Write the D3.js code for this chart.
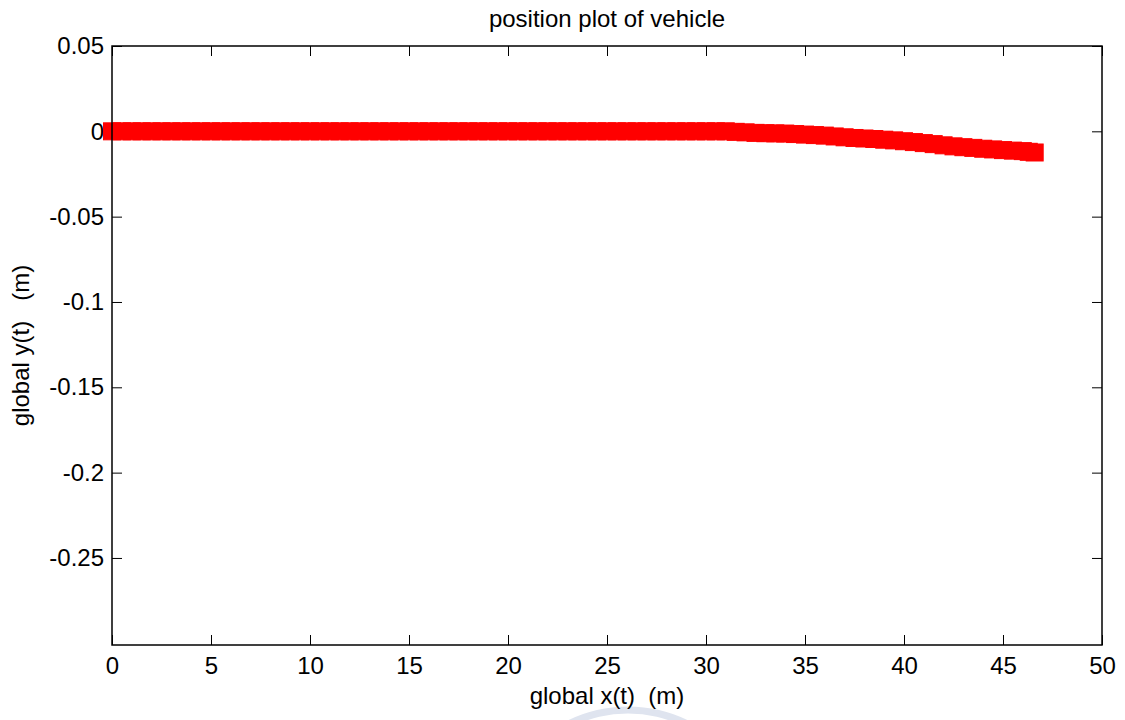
<!DOCTYPE html>
<html>
<head>
<meta charset="utf-8">
<script src="https://cdn.jsdelivr.net/npm/d3@7"></script>
<style>
  body { margin: 0; background: #fff; }
  svg text { font-family: Arial, "Liberation Sans", sans-serif; fill: #000; }
</style>
</head>
<body>
<div id="svg-container"></div>
<script>
// data: vehicle position (m)
const xPos = [0, 0.5, 1, 1.5, 2, 2.5, 3, 3.5, 4, 4.5, 5, 5.5, 6, 6.5, 7, 7.5, 8, 8.5, 9, 9.5,
  10, 10.5, 11, 11.5, 12, 12.5, 13, 13.5, 14, 14.5, 15, 15.5, 16, 16.5, 17, 17.5, 18, 18.5, 19, 19.5,
  20, 20.5, 21, 21.5, 22, 22.5, 23, 23.5, 24, 24.5, 25, 25.5, 26, 26.5, 27, 27.5, 28, 28.5, 29, 29.5,
  30, 30.5, 31, 31.5, 32, 32.5, 33, 33.5, 34, 34.5, 35, 35.5, 36, 36.5, 37, 37.5, 38, 38.5, 39, 39.5,
  40, 40.5, 41, 41.5, 42, 42.5, 43, 43.5, 44, 44.5, 45, 45.5, 46, 46.3, 46.6];
const yPos = [0, 0, 0, 0, 0, 0, 0, 0, 0, 0, 0, 0, 0, 0, 0, 0, 0, 0, 0, 0,
  0, 0, 0, 0, 0, 0, 0, 0, 0, 0, 0, 0, 0, 0, 0, 0, 0, 0, 0, 0,
  0, 0, 0, 0, 0, 0, 0, 0, 0, 0, 0, 0, 0, 0, 0, 0, 0, 0, 0, 0,
  0, 0, 0, -0.0003, -0.0006, -0.0009, -0.0011, -0.0012, -0.0013, -0.0016, -0.0019, -0.0022, -0.0025, -0.003, -0.0035, -0.0039, -0.0042, -0.0045, -0.0049, -0.0053,
  -0.0058, -0.0063, -0.0069, -0.0075, -0.0082, -0.0088, -0.0093, -0.0097, -0.0102, -0.0106, -0.011, -0.0113, -0.0116, -0.012, -0.0124];
const xTicks = [0, 5, 10, 15, 20, 25, 30, 35, 40, 45, 50];
const yTicks = [0.05, 0, -0.05, -0.1, -0.15, -0.2, -0.25];

const width = 1125, height = 720;
const margin = { top: 46, right: 23, bottom: 75, left: 112 };
const fontSize = "24px";

const svg = d3.select("#svg-container").append("svg")
  .attr("width", width).attr("height", height);

const xScale = d3.scaleLinear().domain([0, 50])
  .range([margin.left, width - margin.right]);
const yScale = d3.scaleLinear().domain([-0.301, 0.05])
  .range([height - margin.bottom, margin.top]);

const fmt = (d) => (d === 0 ? "0" : String(d));

// faint watermark at the bottom
svg.append("path")
  .attr("d", d3.arc()({ innerRadius: 96, outerRadius: 104, startAngle: -1.1, endAngle: 1.1 }))
  .attr("transform", "translate(628, 800) scale(1.1, 0.9)")
  .attr("fill", "#dfe4ef");

// axes (ticks inward, mirrored like matlab box)
const tickLen = 10;
svg.append("g")
  .attr("transform", `translate(0, ${yScale.range()[0]})`)
  .call(d3.axisBottom(xScale).tickValues(xTicks).tickSizeInner(-tickLen).tickSizeOuter(0).tickPadding(12).tickFormat(fmt))
  .call((g) => g.select(".domain").remove());
svg.append("g")
  .attr("transform", `translate(0, ${yScale.range()[1]})`)
  .call(d3.axisTop(xScale).tickValues(xTicks).tickSizeInner(-tickLen).tickSizeOuter(0).tickFormat(""))
  .call((g) => g.select(".domain").remove());
svg.append("g")
  .attr("transform", `translate(${xScale.range()[0]}, 0)`)
  .call(d3.axisLeft(yScale).tickValues(yTicks).tickSizeInner(-tickLen).tickSizeOuter(0).tickPadding(8).tickFormat(fmt))
  .call((g) => g.select(".domain").remove());
svg.append("g")
  .attr("transform", `translate(${xScale.range()[1]}, 0)`)
  .call(d3.axisRight(yScale).tickValues(yTicks).tickSizeInner(-tickLen).tickSizeOuter(0).tickFormat(""))
  .call((g) => g.select(".domain").remove());

svg.selectAll(".tick line").attr("stroke", "#000").attr("stroke-width", 1);
svg.selectAll(".tick text").style("font-size", fontSize)
  .style("font-family", "Arial, 'Liberation Sans', sans-serif");

// markers
svg.append("g")
  .selectAll("rect")
  .data(xPos.map((x, i) => ({ x: x, y: yPos[i] })))
  .enter()
  .append("rect")
  .attr("x", (d) => xScale(d.x) - 8.5)
  .attr("y", (d) => yScale(d.y) - 8.5)
  .attr("width", 17)
  .attr("height", 17)
  .attr("fill", "#ff0000")
  .attr("stroke", "#ff0000")
  .attr("stroke-width", 1);

// box
svg.append("rect")
  .attr("x", xScale.range()[0])
  .attr("y", yScale.range()[1])
  .attr("width", xScale.range()[1] - xScale.range()[0])
  .attr("height", yScale.range()[0] - yScale.range()[1])
  .attr("fill", "none")
  .attr("stroke", "#000")
  .attr("stroke-width", 1.5);

// labels
const cx = (xScale.range()[0] + xScale.range()[1]) / 2;
svg.append("text")
  .attr("x", cx).attr("y", 27)
  .attr("text-anchor", "middle")
  .style("font-size", fontSize)
  .text("position plot of vehicle");

svg.append("text")
  .attr("x", cx).attr("y", 704)
  .attr("text-anchor", "middle")
  .style("font-size", fontSize)
  .style("white-space", "pre")
  .text("global x(t)  (m)");

svg.append("text")
  .attr("transform", `translate(29, ${(yScale.range()[0] + yScale.range()[1]) / 2}) rotate(-90)`)
  .attr("text-anchor", "middle")
  .style("font-size", fontSize)
  .style("white-space", "pre")
  .text("global y(t)   (m)");
</script>
</body>
</html>
